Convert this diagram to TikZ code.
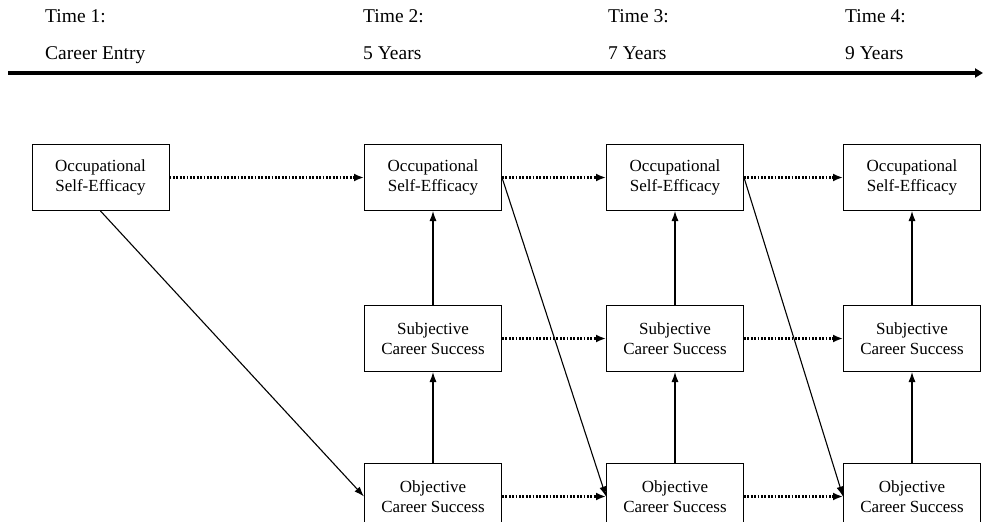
\documentclass[tikz,border=0pt]{standalone}
\usepackage{fontspec}
\setmainfont{Liberation Serif}
\usetikzlibrary{arrows.meta}
\begin{document}
\begin{tikzpicture}[x=1pt,y=-1pt,
  box/.style={draw,line width=1pt,minimum width=137pt,minimum height=66pt,align=center,
              font=\fontsize{17}{20}\selectfont,inner sep=0pt},
  dotarrow/.style={line width=2.2pt,dash pattern=on 1.8pt off 1.6pt,-{Latex[length=10pt,width=8pt]}},
  solidarrow/.style={line width=1.1pt,-{Latex[length=10pt,width=7pt]}},
  tl/.style={anchor=base west,font=\fontsize{19.5}{22}\selectfont,inner sep=0pt}]
\useasboundingbox (0,0) rectangle (983,522);
\clip (0,0) rectangle (983,522);
% timeline
\coordinate (tlstart) at (8,73);
\coordinate (tlend) at (983,73);
\draw[line width=3.5pt,-{Triangle[length=8pt,width=9pt]}] (tlstart) -- (tlend);
\node[tl] (t1a) at (45,23) {Time 1:};
\node[tl] (t1b) at (45,59) {Career Entry};
\node[tl] (t2a) at (363,23) {Time 2:};
\node[tl] (t2b) at (363,59) {5 Years};
\node[tl] (t3a) at (608,23) {Time 3:};
\node[tl] (t3b) at (608,59) {7 Years};
\node[tl] (t4a) at (845,23) {Time 4:};
\node[tl] (t4b) at (845,59) {9 Years};
% boxes
\node[box] (o1) at (100.5,177.5) {Occupational\\Self-Efficacy};
\node[box] (o2) at (433,177.5) {Occupational\\Self-Efficacy};
\node[box] (o3) at (675,177.5) {Occupational\\Self-Efficacy};
\node[box] (o4) at (912,177.5) {Occupational\\Self-Efficacy};
\node[box] (s2) at (433,338.5) {Subjective\\Career Success};
\node[box] (s3) at (675,338.5) {Subjective\\Career Success};
\node[box] (s4) at (912,338.5) {Subjective\\Career Success};
\node[box] (b2) at (433,496.5) {Objective\\Career Success};
\node[box] (b3) at (675,496.5) {Objective\\Career Success};
\node[box] (b4) at (912,496.5) {Objective\\Career Success};
% dotted stability paths
\draw[dotarrow] (o1) -- (o2);
\draw[dotarrow] (o2) -- (o3);
\draw[dotarrow] (o3) -- (o4);
\draw[dotarrow] (s2) -- (s3);
\draw[dotarrow] (s3) -- (s4);
\draw[dotarrow] (b2) -- (b3);
\draw[dotarrow] (b3) -- (b4);
% vertical paths
\draw[solidarrow] (b2) -- (s2);
\draw[solidarrow] (s2) -- (o2);
\draw[solidarrow] (b3) -- (s3);
\draw[solidarrow] (s3) -- (o3);
\draw[solidarrow] (b4) -- (s4);
\draw[solidarrow] (s4) -- (o4);
% diagonal paths
\draw[solidarrow] (o1.south) -- (b2.west);
\draw[solidarrow] (o2.east) -- (b3.west);
\draw[solidarrow] (o3.east) -- (b4.west);
\end{tikzpicture}
\end{document}
